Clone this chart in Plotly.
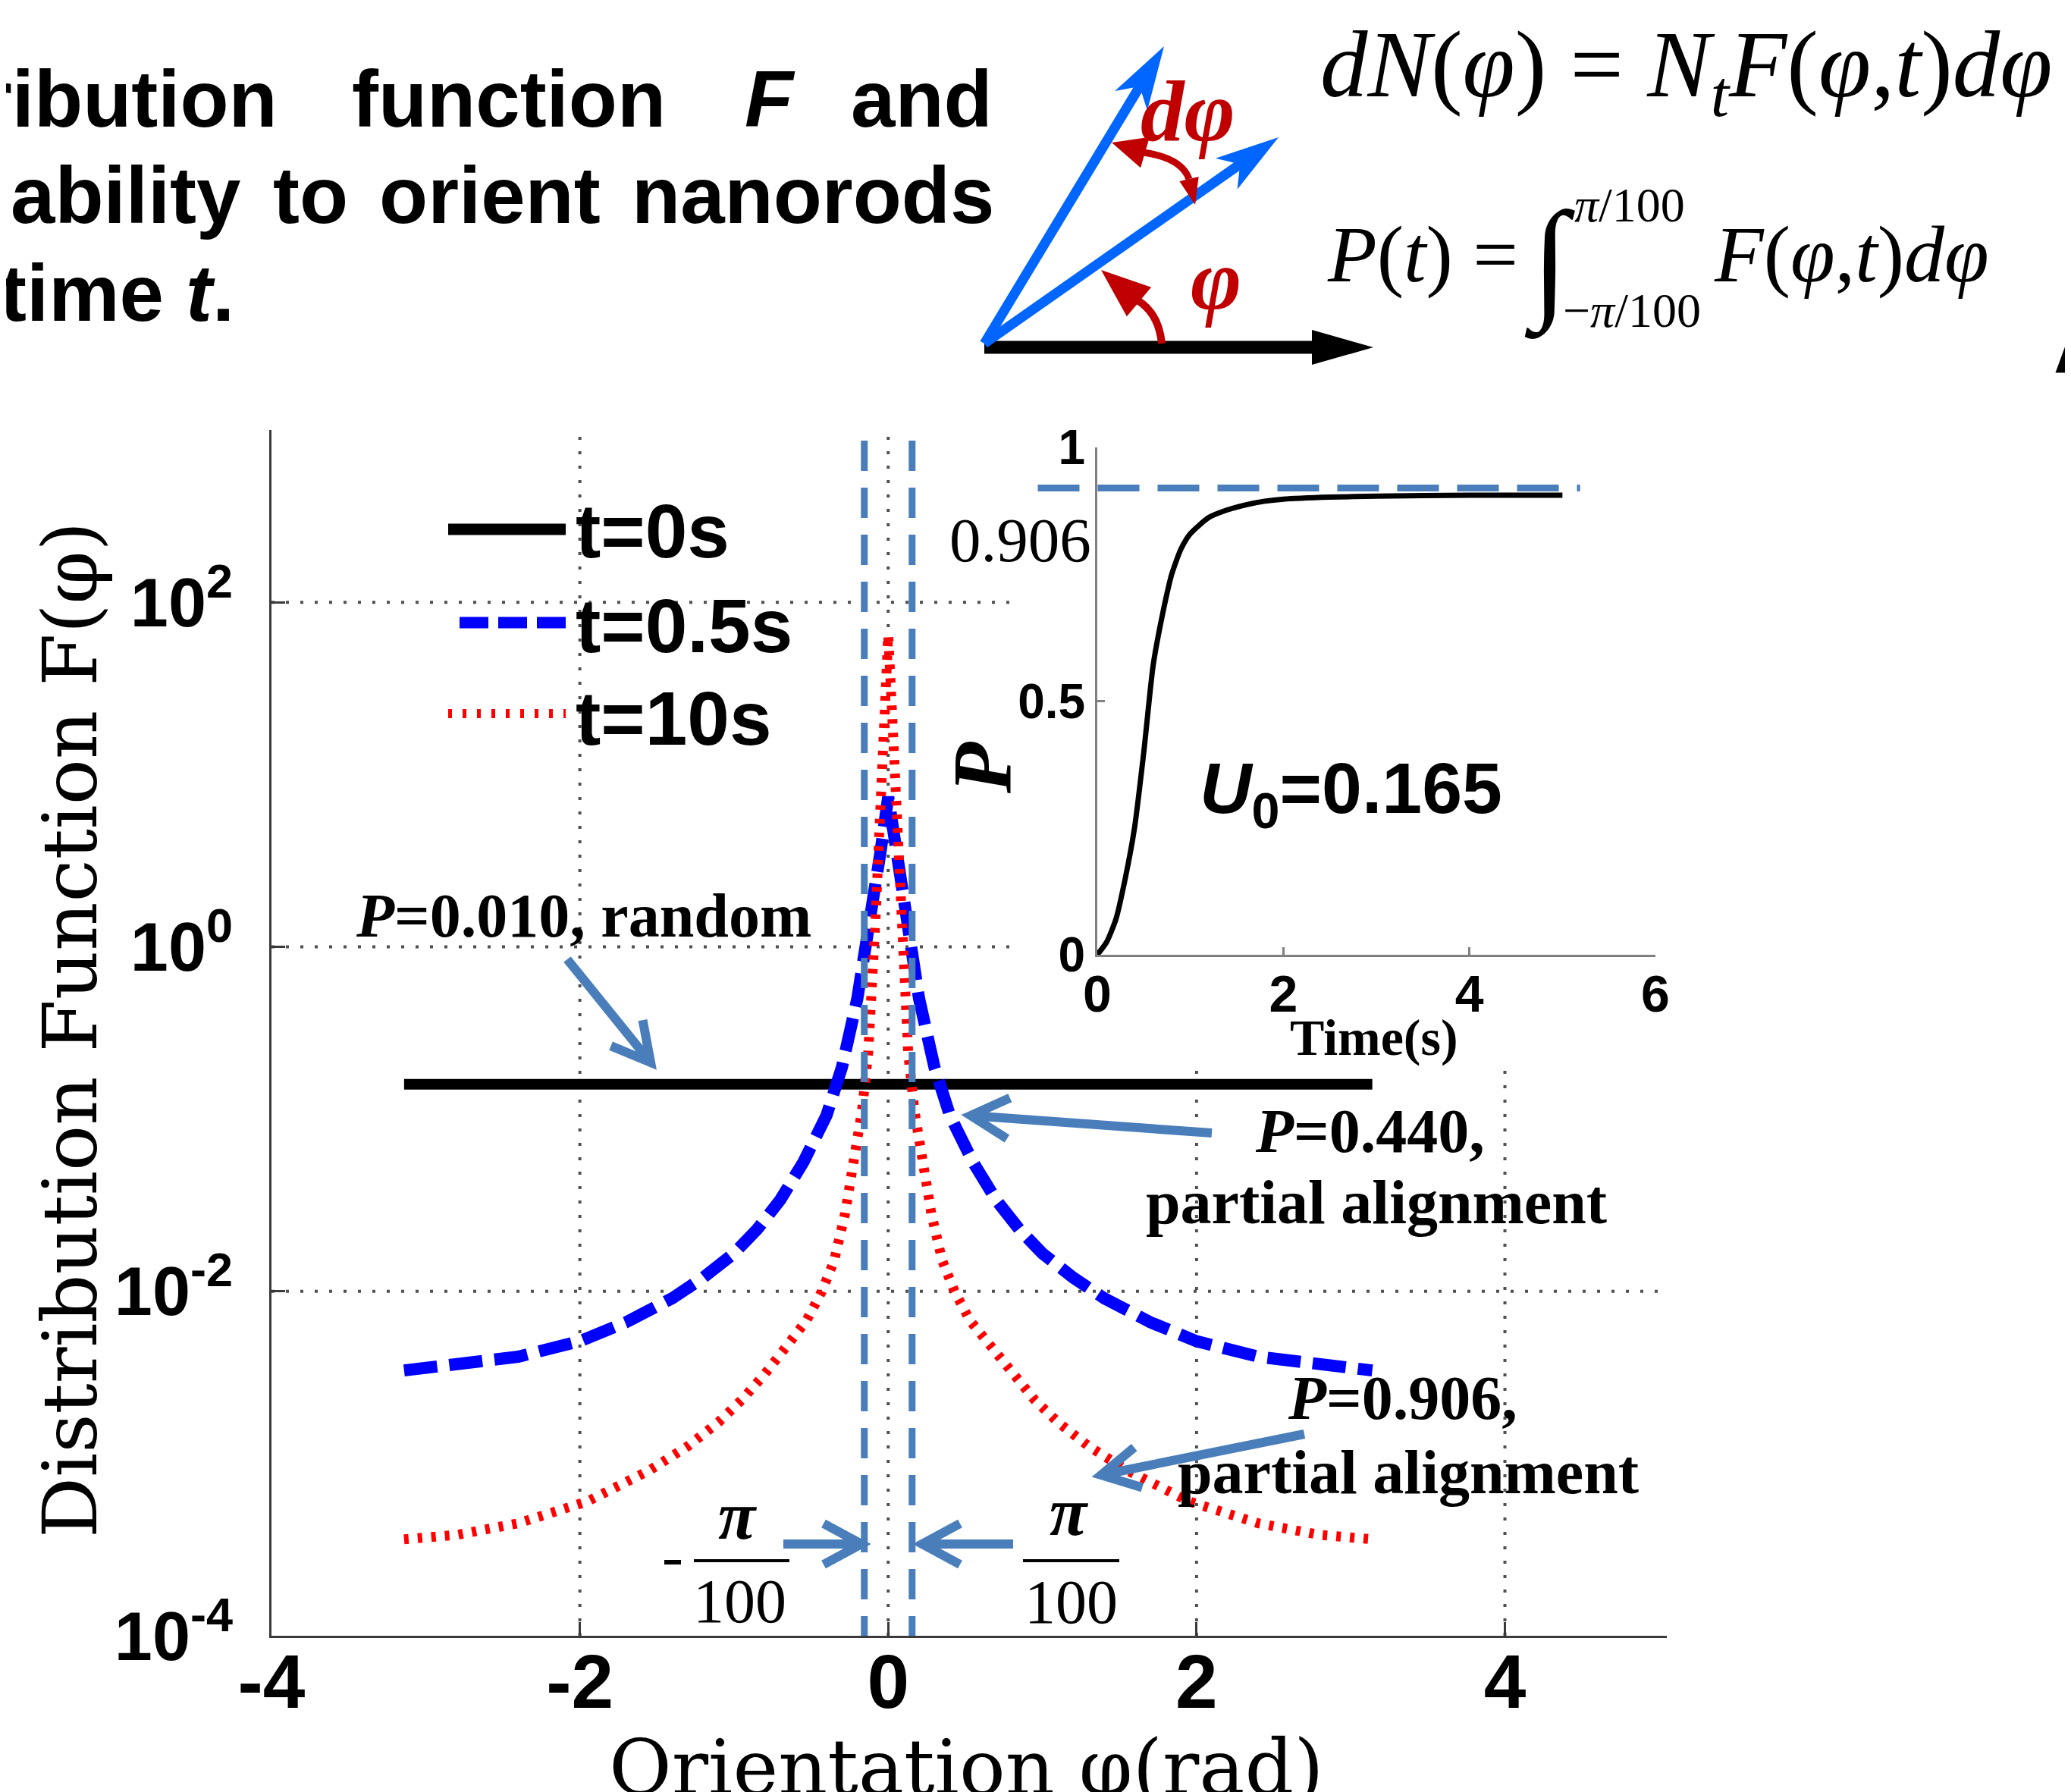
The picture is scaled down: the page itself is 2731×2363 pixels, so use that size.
import math
import plotly.graph_objects as go

W, H = 2731, 2363
SANS = "Liberation Sans, Arial, sans-serif"
SERIF = "Liberation Serif, Times New Roman, serif"
CMR = "DejaVu Serif, serif"

# ---------------- data ----------------
phi_random = [-3.14, 3.14]
F_random = [0.159, 0.159]

phi_half_05 = [0, 0.05, 0.1, 0.15, 0.2, 0.3, 0.4, 0.55, 0.7, 0.85, 1.0, 1.2, 1.4, 1.7, 2.0, 2.4, 2.8, 3.14]
F_half_05 = [7.41, 3.55, 1.66, 0.891, 0.501, 0.200, 0.105, 0.0562, 0.0339, 0.0229, 0.0166,
             0.0120, 0.00912, 0.00661, 0.00513, 0.00417, 0.00372, 0.00347]

phi_half_10 = [0, 0.02, 0.04, 0.06, 0.08, 0.10, 0.13, 0.17, 0.22, 0.28, 0.35, 0.43, 0.53, 0.65,
               0.8, 0.95, 1.1, 1.3, 1.55, 1.95, 2.4, 2.8, 3.14]
F_half_10 = [64.6, 28.2, 11.2, 4.17, 1.58, 0.631, 0.240, 0.112, 0.0562, 0.0282, 0.0151, 0.0100,
             0.00676, 0.00501, 0.00331, 0.00234, 0.00174, 0.00126, 0.000912, 0.000603, 0.000450,
             0.000385, 0.000363]

t_s = [0, 0.1, 0.2, 0.3, 0.4, 0.5, 0.6, 0.7, 0.8, 0.9, 1.0, 1.2, 1.4, 1.6, 1.8, 2.0, 2.5, 3.0, 4.0, 5.0]
P_t = [0, 0.025, 0.07, 0.15, 0.25, 0.40, 0.57, 0.67, 0.75, 0.80, 0.83, 0.862, 0.877, 0.887, 0.894,
       0.898, 0.902, 0.904, 0.906, 0.906]
P_level = 0.92
P_level_span = [-0.64, 5.19]

x_ticks = [-4, -2, 0, 2, 4]
x_ticktext = ["-4", "-2", "0", "2", "4"]
y_ticks = [1e-4, 1e-2, 1, 1e2]
y_ticktext = ["10<sup>-4</sup>", "10<sup>-2</sup>", "10<sup>0</sup>", "10<sup>2</sup>"]
ix_ticks = [0, 2, 4, 6]
iy_ticks = [0, 0.5, 1]
iy_ticktext = ["0", "0.5", "1"]
window_half = 0.155

# mirrored full curves
phi_05 = [-v for v in reversed(phi_half_05[1:])] + phi_half_05
F_05 = list(reversed(F_half_05[1:])) + F_half_05
phi_10 = [-v for v in reversed(phi_half_10[1:])] + phi_half_10
F_10 = list(reversed(F_half_10[1:])) + F_half_10

# ---------------- geometry ----------------
MX0, MX1, MXR = 350, 2190, (-4.0, 5.05)
MY0, MY1, MYR = 2149, 559, (-4.0, 3.0)
IX0, IX1, IXR = 1439, 2175, (0.0, 6.0)
IY0, IY1, IYR = 1251, 582, (0.0, 1.0)


def px(x):
    return x / W


def py(y):
    return 1 - y / H


def mxp(v):
    return MX0 + (v - MXR[0]) / (MXR[1] - MXR[0]) * (MX1 - MX0)


def myp(v):
    return MY0 - (math.log10(v) - MYR[0]) / (MYR[1] - MYR[0]) * (MY0 - MY1)


def ixp(v):
    return IX0 + (v - IXR[0]) / (IXR[1] - IXR[0]) * (IX1 - IX0)


def iyp(v):
    return IY0 - (v - IYR[0]) / (IYR[1] - IYR[0]) * (IY0 - IY1)


shapes = []
anns = []


def seg(x0, y0, x1, y1, color, width, dash="solid", layer="above"):
    shapes.append(dict(type="line", xref="paper", yref="paper", x0=px(x0), y0=py(y0),
                       x1=px(x1), y1=py(y1), layer=layer,
                       line=dict(color=color, width=width, dash=dash)))


def pstr(pts):
    return " ".join(("M" if i == 0 else "L") + f" {px(x):.5f},{py(y):.5f}" for i, (x, y) in enumerate(pts))


def poly(pts, color):
    shapes.append(dict(type="path", xref="paper", yref="paper", path=pstr(pts) + " Z",
                       fillcolor=color, line=dict(width=0), layer="above"))


def qcurve(p0, c, p1, color, width):
    path = (f"M {px(p0[0]):.5f},{py(p0[1]):.5f} Q {px(c[0]):.5f},{py(c[1]):.5f} "
            f"{px(p1[0]):.5f},{py(p1[1]):.5f}")
    shapes.append(dict(type="path", xref="paper", yref="paper", path=path,
                       line=dict(color=color, width=width), layer="above"))


def chevron_arrow(tail, tip, color="#4a7ebb", width=12, L=50, half=27):
    dx, dy = tip[0] - tail[0], tip[1] - tail[1]
    n = math.hypot(dx, dy)
    ux, uy = dx / n, dy / n
    nx, ny = -uy, ux
    bx, by = tip[0] - L * ux, tip[1] - L * uy
    a1 = (bx + half * nx, by + half * ny)
    a2 = (bx - half * nx, by - half * ny)
    path = (f"M {px(tail[0]):.5f},{py(tail[1]):.5f} L {px(tip[0]):.5f},{py(tip[1]):.5f} "
            f"M {px(a1[0]):.5f},{py(a1[1]):.5f} L {px(tip[0]):.5f},{py(tip[1]):.5f} "
            f"L {px(a2[0]):.5f},{py(a2[1]):.5f}")
    shapes.append(dict(type="path", xref="paper", yref="paper", path=path,
                       line=dict(color=color, width=width), layer="above"))


def stealth_arrow(origin, tip, color, width, L=84, half=25, notch=62):
    dx, dy = tip[0] - origin[0], tip[1] - origin[1]
    n = math.hypot(dx, dy)
    ux, uy = dx / n, dy / n
    nx, ny = -uy, ux
    bx, by = tip[0] - L * ux, tip[1] - L * uy
    b1 = (bx + half * nx, by + half * ny)
    b2 = (bx - half * nx, by - half * ny)
    npnt = (tip[0] - notch * ux, tip[1] - notch * uy)
    seg(origin[0], origin[1], npnt[0] + 6 * ux, npnt[1] + 6 * uy, color, width)
    poly([tip, b1, npnt, b2], color)


def head(tip, base, half, color):
    dx, dy = tip[0] - base[0], tip[1] - base[1]
    n = math.hypot(dx, dy)
    nx, ny = -dy / n, dx / n
    poly([tip, (base[0] + half * nx, base[1] + half * ny), (base[0] - half * nx, base[1] - half * ny)], color)


def text(x, y, s, size, family=SANS, color="black", xanchor="center", yanchor="middle", angle=0):
    anns.append(dict(x=px(x), y=py(y), xref="paper", yref="paper", text=s, showarrow=False,
                     font=dict(family=family, size=size, color=color), xanchor=xanchor,
                     yanchor=yanchor, textangle=angle, borderpad=0))


# ---------------- grid (manual, stops at the inset) ----------------
GRID = dict(color="#505050", width=4, dash="4px,15px", layer="below")
for gx in [-2, 0]:
    seg(mxp(gx), MY0, mxp(gx), MY1, **GRID)
for gx in [2, 4]:
    seg(mxp(gx), MY0, mxp(gx), 1400, **GRID)
seg(MX0, myp(1e-2), MX1, myp(1e-2), **GRID)
for gy in [1, 1e2]:
    seg(MX0, myp(gy), 1332, myp(gy), **GRID)

# window lines at +/- pi/100 (schematic)
for v in [-window_half, window_half]:
    seg(mxp(v), 573, mxp(v), MY0, "#4a7ebb", 9, dash="40px,22px")

# inset level line
seg(ixp(P_level_span[0]), iyp(P_level), ixp(P_level_span[1]), iyp(P_level), "#4a7ebb", 9, dash="55px,24px")

# ---------------- legend (manual) ----------------
seg(583, 690, 738, 690, "black", 15)
seg(598, 813, 738, 813, "#0000ff", 15, dash="38px,13px")
seg(583, 933, 738, 933, "#ff0000", 12, dash="5px,14px")
text(750, 692, "<b>t=0s</b>", 100, xanchor="left")
text(750, 817, "<b>t=0.5s</b>", 100, xanchor="left")
text(750, 939, "<b>t=10s</b>", 100, xanchor="left")

# ---------------- annotations in main plot ----------------
text(460, 1199, "<b><i>P</i>=0.010, random</b>", 82, SERIF, xanchor="left")
text(1646, 1483, "<b><i>P</i>=0.440,</b>", 82, SERIF, xanchor="left")
text(1502, 1577, "<b>partial alignment</b>", 82, SERIF, xanchor="left")
text(1689, 1835, "<b><i>P</i>=0.906,</b>", 82, SERIF, xanchor="left")
text(1544, 1933, "<b>partial alignment</b>", 82, SERIF, xanchor="left")

chevron_arrow((740, 1257), (850, 1393))
chevron_arrow((1590, 1486), (1272, 1463))
chevron_arrow((1712, 1883), (1444, 1937))
chevron_arrow((1025, 2028), (1128, 2028))
chevron_arrow((1328, 2028), (1208, 2028))

# -pi/100 and pi/100 fractions
text(965, 1990, "<b><i>π</i></b>", 90, SERIF)
seg(907, 2050, 1033, 2050, "black", 4)
seg(868, 2052, 890, 2052, "black", 6)
text(968, 2103, "100", 82, SERIF)
text(1402, 1986, "<b><i>π</i></b>", 90, SERIF)
seg(1341, 2050, 1468, 2050, "black", 4)
text(1404, 2104, "100", 82, SERIF)

# axis titles
text(84, 1350, "Distribution Function F(φ)", 100, CMR, angle=-90)
text(1266, 2323, "Orientation φ(rad)", 101, CMR)

# inset texts
text(1432, 704, "0.906", 83, SERIF, xanchor="right")
text(1287, 1005, "<b><i>P</i></b>", 110, SERIF, angle=-90)
text(1804, 1360, "<b>Time(s)</b>", 68, SERIF)
text(1573, 1038, "<b><i>U</i><sub>0</sub>=0.165</b>", 95, SANS, xanchor="left")

# ---------------- header text ----------------
HS = 105
text(359, 122, "<b>ribution</b>", HS, xanchor="right")
text(455, 122, "<b>function</b>", HS, xanchor="left")
text(973, 122, "<b><i>F</i></b>", HS, xanchor="left")
text(1302, 122, "<b>and</b>", HS, xanchor="right")
text(310, 250, "<b>ability</b>", HS, xanchor="right")
text(351, 250, "<b>to</b>", HS, xanchor="left")
text(491, 250, "<b>orient</b>", HS, xanchor="left")
text(1304, 250, "<b>nanorods</b>", HS, xanchor="right")
text(302, 378, "<b>time <i>t</i>.</b>", HS, xanchor="right")
text(2698, 436, "<b>A</b>", 140, xanchor="left")

# equations
text(1732, 86, "<i>dN</i>(<i>φ</i>) = <i>N<sub>t</sub>F</i>(<i>φ</i>,<i>t</i>)<i>dφ</i>", 125, SERIF, xanchor="left")
text(1741, 327, "<i>P</i>(<i>t</i>) =", 106, SERIF, xanchor="left")
text(2036, 337, "∫", 175, SERIF)
text(2067, 262, "<i>π</i>/100", 64, SERIF, xanchor="left")
text(2052, 401, "−<i>π</i>/100", 64, SERIF, xanchor="left")
text(2251, 327, "<i>F</i>(<i>φ</i>,<i>t</i>)<i>dφ</i>", 106, SERIF, xanchor="left")

# ---------------- angle diagram ----------------
RED = "#c00000"
BLUE = "#0066ff"
seg(1290, 450, 1725, 450, "black", 17)
poly([(1722, 427), (1803, 450), (1722, 473)], "black")
stealth_arrow((1290, 445), (1527, 53), BLUE, 13)
stealth_arrow((1290, 445), (1678, 173), BLUE, 13)
qcurve((1524, 445), (1520, 405), (1492, 388), RED, 10)
head((1444, 348), (1494, 390), 25, RED)
qcurve((1560, 228), (1550, 200), (1500, 193), RED, 9)
head((1458, 180), (1502, 193), 21, RED)
head((1568, 262), (1560, 228), 13, RED)
text(1558, 140, "<b><i>dφ</i></b>", 115, SERIF, color=RED)
text(1595, 362, "<b><i>φ</i></b>", 115, SERIF, color=RED)

# ---------------- traces ----------------
fig = go.Figure()
fig.add_trace(go.Scatter(x=phi_random, y=F_random, mode="lines", name="t=0s",
                         line=dict(color="black", width=14), xaxis="x", yaxis="y"))
fig.add_trace(go.Scatter(x=phi_05, y=F_05, mode="lines", name="t=0.5s",
                         line=dict(color="#0000ff", width=16, dash="44px,16px"), xaxis="x", yaxis="y"))
fig.add_trace(go.Scatter(x=phi_10, y=F_10, mode="lines", name="t=10s",
                         line=dict(color="#ff0000", width=13, dash="6px,12px"), xaxis="x", yaxis="y"))
fig.add_trace(go.Scatter(x=t_s, y=P_t, mode="lines", name="P(t)", line_shape="spline",
                         line=dict(color="black", width=7, smoothing=0.6), xaxis="x2", yaxis="y2"))

AX = "#3a3a3a"
fig.update_layout(
    template="none",
    width=W, height=H,
    margin=dict(l=0, r=0, t=0, b=0),
    paper_bgcolor="white", plot_bgcolor="rgba(0,0,0,0)",
    showlegend=False,
    xaxis=dict(domain=[px(MX0), px(MX1)], range=list(MXR), anchor="y", showline=True,
               linecolor=AX, linewidth=3, ticks="inside", ticklen=18, tickwidth=3, tickcolor=AX,
               tickvals=x_ticks, ticktext=[f"<b>{t}</b>" for t in x_ticktext],
               tickfont=dict(family=SANS, size=100, color="black"), showgrid=False,
               zeroline=False, automargin=False, ticklabelstandoff=-28),
    yaxis=dict(type="log", domain=[py(MY0), py(MY1)], range=list(MYR), anchor="x", showline=True,
               linecolor=AX, linewidth=3, ticks="inside", ticklen=18, tickwidth=3, tickcolor=AX,
               tickvals=y_ticks, ticktext=[f"<b>{t}</b>" for t in y_ticktext],
               tickfont=dict(family=SANS, size=90, color="black"), showgrid=False,
               zeroline=False, automargin=False, ticklabelstandoff=30),
    xaxis2=dict(domain=[px(IX0), px(IX1)], range=list(IXR), anchor="y2", showline=True,
                linecolor="#808080", linewidth=3, ticks="inside", ticklen=10, tickwidth=3,
                tickcolor="#808080", tickvals=ix_ticks, ticktext=[f"<b>{t}</b>" for t in ix_ticks],
                tickfont=dict(family=SANS, size=68, color="black"), showgrid=False,
                zeroline=False, automargin=False, ticklabelstandoff=-10),
    yaxis2=dict(domain=[py(IY0), py(IY1)], range=list(IYR), anchor="x2", showline=True,
                linecolor="#808080", linewidth=3, ticks="inside", ticklen=10, tickwidth=3,
                tickcolor="#808080", tickvals=iy_ticks, ticktext=[f"<b>{t}</b>" for t in iy_ticktext],
                tickfont=dict(family=SANS, size=64, color="black"), showgrid=False,
                zeroline=False, automargin=False),
    shapes=shapes,
    annotations=anns,
)

fig.write_html("out.html")
